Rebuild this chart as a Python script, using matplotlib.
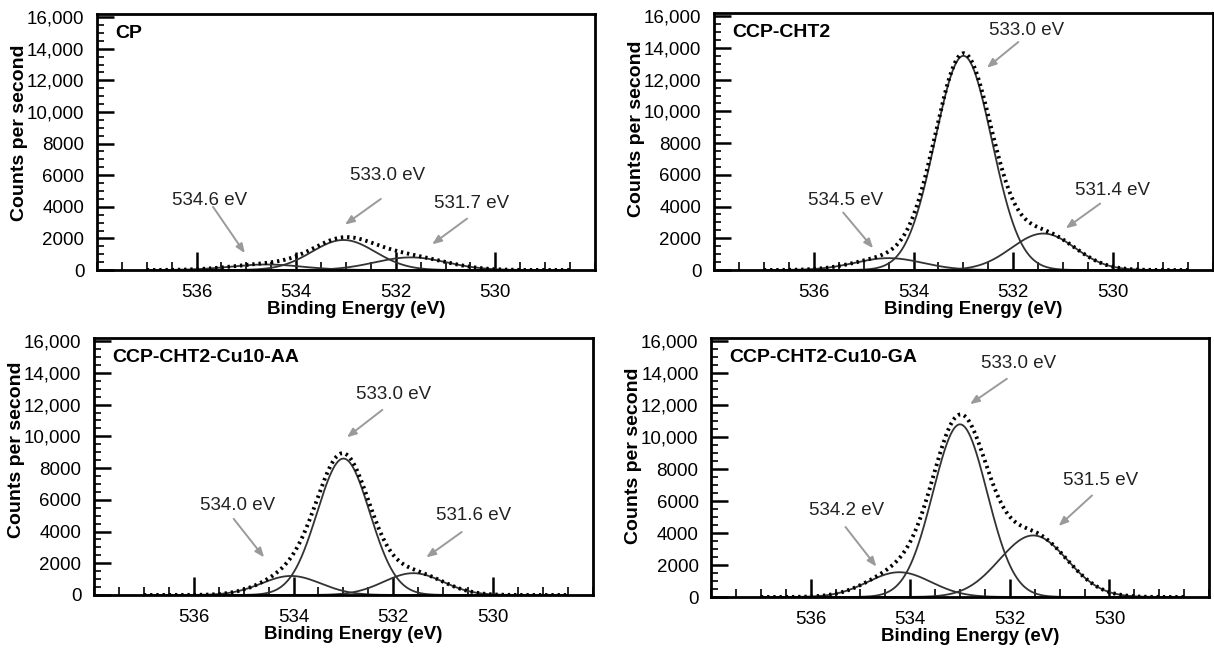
import numpy as np
import matplotlib
matplotlib.use("Agg")
import matplotlib.pyplot as plt
from matplotlib.ticker import MultipleLocator, FixedLocator

plt.rcParams['font.family'] = ['Liberation Sans', 'DejaVu Sans']

# sample names and fitted O 1s components (center eV, height cps, FWHM eV)
names = ["CP", "CCP-CHT2", "CCP-CHT2-Cu10-AA", "CCP-CHT2-Cu10-GA"]
centers = [[534.6, 533.05, 531.7],
           [534.5, 533.0, 531.4],
           [534.05, 533.0, 531.6],
           [534.22, 533.0, 531.53]]
heights = [[350, 1900, 800],
           [750, 13500, 2300],
           [1200, 8600, 1375],
           [1550, 10800, 3850]]
fwhms = [[1.7, 1.5, 1.7],
         [1.6, 1.34, 1.5],
         [1.4, 1.24, 1.4],
         [1.5, 1.28, 1.6]]

# peak labels: text, text position, arrow tail, arrow head (data coords)
labels = [["534.6 eV", "533.0 eV", "531.7 eV"],
          ["534.5 eV", "533.0 eV", "531.4 eV"],
          ["534.0 eV", "533.0 eV", "531.6 eV"],
          ["534.2 eV", "533.0 eV", "531.5 eV"]]
label_xy = [[(535.74, 4375), (532.16, 6000), (530.47, 4190)],
            [(535.37, 4375), (531.73, 15125), (530.02, 5000)],
            [(535.13, 5640), (532.0, 12630), (530.39, 5000)],
            [(535.28, 5400), (531.82, 14600), (530.17, 7300)]]
arrow_from = [[(535.67, 4000), (532.30, 4500), (530.57, 3250)],
              [(535.41, 3625), (531.90, 14375), (530.26, 4190)],
              [(535.20, 4800), (532.22, 11670), (530.63, 3970)],
              [(535.30, 4380), (532.06, 13650), (530.35, 6350)]]
arrow_to = [[(535.03, 1060), (533.02, 2875), (531.27, 1625)],
            [(534.81, 1375), (532.53, 12750), (530.95, 2625)],
            [(534.59, 2370), (532.93, 9940), (531.34, 2370)],
            [(534.68, 1900), (532.80, 12060), (531.02, 4440)]]

yticks = [0, 2000, 4000, 6000, 8000, 10000, 12000, 14000, 16000]
ytick_labels = ["0", "2000", "4000", "6000", "8000", "10,000", "12,000", "14,000", "16,000"]
xticks = [536, 534, 532, 530]

positions = [[0.0799, 0.5833, 0.4102, 0.3951],
             [0.5881, 0.5833, 0.4110, 0.3966],
             [0.0774, 0.0818, 0.4110, 0.3966],
             [0.5857, 0.0787, 0.4102, 0.3997]]
ylabel_y = [0.535, 0.55, 0.564, 0.544]

fig = plt.figure(figsize=(12.14, 6.48), dpi=100)
energy = np.linspace(537.0, 528.5, 800)

for i in range(4):
    ax = fig.add_axes(positions[i])
    total = np.zeros_like(energy)
    for c, h, w in zip(centers[i], heights[i], fwhms[i]):
        sigma = w / 2.3548
        comp = h * np.exp(-(energy - c) ** 2 / (2 * sigma ** 2))
        total += comp
        ax.plot(energy, comp, color='#333333', lw=1.3)
    ax.plot(energy, total, color='black', lw=2.8, linestyle=(0, (0.6, 1.0)))

    for txt, xy, a0, a1 in zip(labels[i], label_xy[i], arrow_from[i], arrow_to[i]):
        ax.text(xy[0], xy[1], txt, ha='center', va='center', fontsize=13.5, color='#222222')
        ax.annotate('', xy=a1, xytext=a0,
                    arrowprops=dict(arrowstyle='-|>,head_length=0.55,head_width=0.22',
                                    color='#9a9a9a', lw=1.4, shrinkA=0, shrinkB=0))

    ax.text(0.036, 0.925, names[i], transform=ax.transAxes, fontsize=14,
            fontweight='bold', va='center', ha='left')

    ax.set_xlim(538, 528)
    ax.set_ylim(0, 16200)
    ax.xaxis.set_major_locator(FixedLocator(xticks))
    ax.xaxis.set_minor_locator(MultipleLocator(0.5))
    ax.set_yticks(yticks)
    ax.set_yticklabels(ytick_labels)
    ax.yaxis.set_minor_locator(MultipleLocator(500))
    ax.tick_params(axis='both', which='both', direction='in', labelsize=13.5,
                   top=False, right=False)
    ax.tick_params(axis='x', which='major', length=13, width=1.8, pad=10)
    ax.tick_params(axis='x', which='minor', length=6, width=1.2)
    ax.tick_params(axis='y', which='major', length=12, width=1.8, pad=9)
    ax.tick_params(axis='y', which='minor', length=5, width=1.2)
    for s in ax.spines.values():
        s.set_linewidth(2)
    ax.set_xlabel("Binding Energy (eV)", fontsize=13.5, fontweight='bold')
    ax.xaxis.set_label_coords(0.52, -0.12)
    ax.set_ylabel("Counts per second", fontsize=14, fontweight='bold')
    ax.yaxis.set_label_coords(-0.139, ylabel_y[i])

fig.savefig("out.png", dpi=100)
